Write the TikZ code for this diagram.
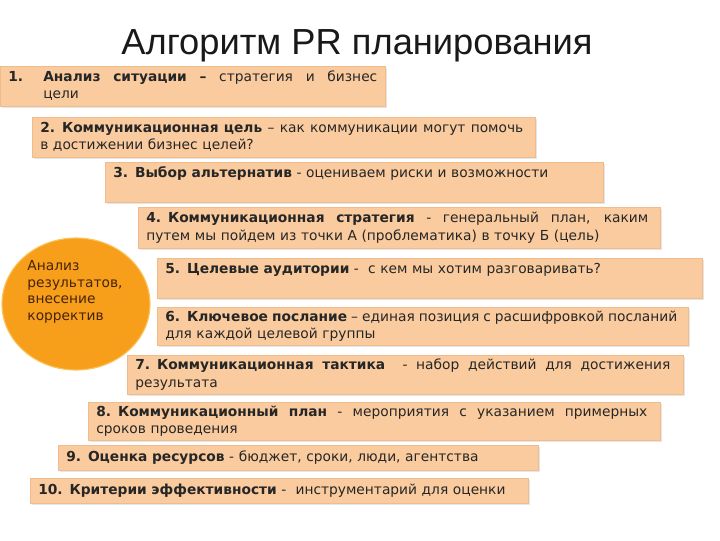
\documentclass[tikz,border=0pt]{standalone}
\usepackage{fontspec}
\setmainfont{DejaVu Sans}
\newfontfamily\titlefont{Liberation Sans}
\usepackage{tikz}
\usetikzlibrary{positioning,shadows,shapes.geometric}
\usepackage{xcolor}

\definecolor{boxfill}{RGB}{250,203,158}
\definecolor{boxedge}{RGB}{240,188,140}
\definecolor{circfill}{RGB}{247,159,26}
\definecolor{circedge}{RGB}{250,196,90}
\definecolor{circtext}{RGB}{70,35,10}
\newdimen\pxu \pxu=0.025cm
\newcommand{\stretchline}[2]{\strut{\spaceskip=.33em plus 1fil minus .12em\makebox[#1\pxu][s]{#2}}}

\begin{document}
\begin{tikzpicture}[x=0.025cm, y=-0.025cm,
    planbox/.style={rectangle, fill=boxfill, draw=boxedge, line width=0.4pt,
      anchor=north west, inner xsep=8\pxu, inner ysep=0pt, align=left,
      font=\fontsize{9.8}{12.5}\selectfont, text=black!85,
      drop shadow={shadow xshift=1pt, shadow yshift=-1pt, opacity=.2}},
    loopoval/.style={ellipse, fill=circfill, draw=circedge, line width=0.8pt},
    ovaltext/.style={align=left, text=circtext, inner sep=0pt,
      font=\fontsize{9.8}{11.8}\selectfont}]
    \useasboundingbox (0,0) rectangle (720,540);

    \coordinate (P1) at (0, 66);
    \coordinate (P2) at (32, 117);
    \coordinate (P3) at (105, 162);
    \coordinate (P4) at (138, 207);
    \coordinate (P5) at (157, 258);
    \coordinate (P6) at (157, 307);
    \coordinate (P7) at (127, 355);
    \coordinate (P8) at (88, 402);
    \coordinate (P9) at (58, 445);
    \coordinate (P10) at (30, 478);

    \node [font=\titlefont\fontsize{25.8}{30}\selectfont, text=black!90] (T) at (357, 46) {Алгоритм PR планирования};

    \node [loopoval, minimum width=148\pxu, minimum height=132\pxu] (C) at (76, 304) {};
    \node [ovaltext] (CT) at (75, 292) {Анализ\\результатов,\\внесение\\корректив};

    \node [planbox, text width=369\pxu, minimum height=40\pxu] (S1) at (P1)
      {\stretchline{369}{\makebox[35\pxu][l]{\textbf{1.}}\textbf{Анализ ситуации –} стратегия и бизнес}\\\strut\hspace*{35\pxu}цели};
    \node [planbox, text width=487\pxu, minimum height=40\pxu] (S2) at (P2)
      {\stretchline{483}{\textbf{2. Коммуникационная цель} – как коммуникации могут помочь}\\\strut в достижении бизнес целей?};
    \node [planbox, text width=482\pxu, minimum height=40\pxu] (S3) at (P3)
      {\strut\textbf{3. Выбор альтернатив} - оцениваем риски и возможности\\\strut};
    \node [planbox, text width=506\pxu, minimum height=41\pxu] (S4) at (P4)
      {\stretchline{502}{\textbf{4. Коммуникационная стратегия} - генеральный план, каким}\\\strut путем мы пойдем из точки А (проблематика) в точку Б (цель)};
    \node [planbox, text width=529\pxu, minimum height=40\pxu] (S5) at (P5)
      {\strut\textbf{5. Целевые аудитории} -\ \ с кем мы хотим разговаривать?\\\strut};
    \node [planbox, text width=515\pxu, minimum height=38\pxu] (S6) at (P6)
      {\stretchline{512}{\textbf{6. Ключевое послание} – единая позиция с расшифровкой посланий}\\\strut для каждой целевой группы};
    \node [planbox, text width=540\pxu, minimum height=39\pxu] (S7) at (P7)
      {\stretchline{535}{\textbf{7. Коммуникационная тактика}\ \ - набор действий для достижения}\\\strut результата};
    \node [planbox, text width=556\pxu, minimum height=38\pxu] (S8) at (P8)
      {\stretchline{551}{\textbf{8. Коммуникационный план} - мероприятия с указанием примерных}\\\strut сроков проведения};
    \node [planbox, text width=464\pxu, minimum height=25\pxu] (S9) at (P9)
      {\strut\textbf{9. Оценка ресурсов}\ - бюджет, сроки, люди, агентства};
    \node [planbox, text width=482\pxu, minimum height=25\pxu] (S10) at (P10)
      {\strut\textbf{10. Критерии эффективности} -\ \ инструментарий для оценки};
\end{tikzpicture}
\end{document}
